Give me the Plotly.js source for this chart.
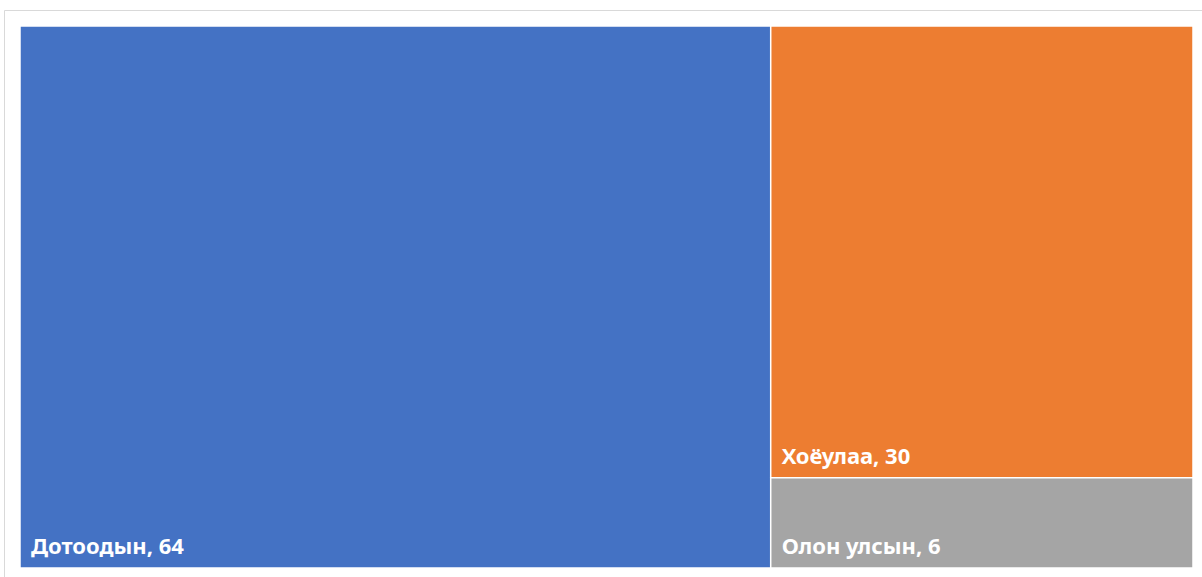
<!DOCTYPE html>
<html>
<head>
<meta charset="utf-8">
<script src="https://cdn.plot.ly/plotly-3.0.1.min.js"></script>
<style>html,body{margin:0;padding:0;background:#fff;}#chart{width:1202px;height:577px;}</style>
</head>
<body>
<div id="chart"></div>
<script>
const labels = ['Дотоодын', 'Хоёулаа', 'Олон улсын'];
const parents = ['', '', ''];
const values = [64, 30, 6];
const colors = ['#4472C4', '#ED7D31', '#A5A5A5'];

const W = 1202, H = 577;
const trace = {
  type: 'treemap',
  labels: labels,
  parents: parents,
  values: values,
  branchvalues: 'total',
  sort: false,
  tiling: {packing: 'squarify', pad: 0},
  marker: {colors: colors, line: {color: '#ffffff', width: 1.5}, pad: {t: 0, l: 0, r: 0, b: 0}},
  pathbar: {visible: false},
  texttemplate: '<span style="font-size:22px">\u00a0\u200a%{label}, %{value}</span><br>\u00a0',
  textposition: 'bottom left',
  textfont: {family: '"Noto Sans", "Open Sans", sans-serif', size: 7, color: '#ffffff', weight: 'bold'},
  hoverinfo: 'label+value',
  domain: {x: [20 / W, 1193 / W], y: [9 / H, 551 / H]}
};

const layout = {
  width: W, height: H,
  margin: {l: 0, r: 0, t: 0, b: 0},
  paper_bgcolor: '#ffffff',
  showlegend: false,
  shapes: [{
    type: 'rect', xref: 'paper', yref: 'paper',
    x0: 4.5 / W, x1: 1.01, y0: -0.01, y1: (H - 10.5) / H,
    line: {color: '#d9d9d9', width: 1}, fillcolor: 'rgba(0,0,0,0)', layer: 'below'
  }]
};

Plotly.newPlot('chart', [trace], layout, {displayModeBar: false});
</script>
</body>
</html>
